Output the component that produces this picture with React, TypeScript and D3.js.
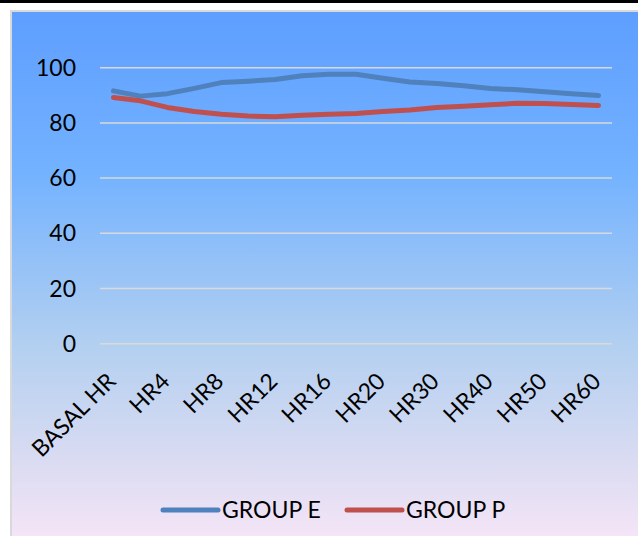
import React from "react";
import * as d3 from "d3";

const categories = [
  "BASAL HR", "HR2", "HR4", "HR6", "HR8", "HR10", "HR12", "HR14", "HR16", "HR18",
  "HR20", "HR25", "HR30", "HR35", "HR40", "HR45", "HR50", "HR55", "HR60",
];
const groupE = [91.6, 89.7, 90.6, 92.5, 94.6, 95.1, 95.7, 97.1, 97.6, 97.6, 96.2, 94.8, 94.3, 93.5, 92.5, 92.0, 91.3, 90.6, 89.9];
const groupP = [89.2, 88.0, 85.6, 84.1, 83.1, 82.5, 82.2, 82.8, 83.1, 83.4, 84.1, 84.7, 85.6, 86.0, 86.6, 87.1, 87.0, 86.7, 86.3];
const yTicks = [0, 20, 40, 60, 80, 100];
const labelEvery = 2;
const seriesNames = ["GROUP E", "GROUP P"];
const seriesColors = ["#4F81BD", "#C0504D"];

const W = 638;
const H = 536;
const FONT = "Lato, 'Open Sans', sans-serif";

export default function App() {
  const x = d3.scaleBand<string>().domain(categories).range([100, 612]);
  const y = d3.scaleLinear().domain([0, 100]).range([343.7, 67.7]);
  const line = d3
    .line<number>()
    .x((_, i) => (x(categories[i]) as number) + x.bandwidth() / 2)
    .y((d) => y(d))
    .curve(d3.curveLinear);
  const series = [groupE, groupP];

  return (
    <div style={{ position: "fixed", left: 0, top: 0, width: W, height: H }}>
      <svg width={W} height={H} style={{ display: "block" }}>
        <defs>
          <linearGradient id="bg" x1="0" y1="0" x2="0" y2="1">
            <stop offset="0" stopColor="#5E9EFF" />
            <stop offset="0.3" stopColor="#73B2FF" />
            <stop offset="0.63" stopColor="#B4D0F0" />
            <stop offset="0.85" stopColor="#DCDCF2" />
            <stop offset="1" stopColor="#F8E6F8" />
          </linearGradient>
        </defs>
        <rect x={0} y={0} width={W} height={H} fill="#ffffff" />
        <rect x={0} y={0} width={W} height={3} fill="#000000" />
        <rect x={11} y={11} width={W} height={H} fill="url(#bg)" stroke="#D9D9D9" strokeWidth={2} />
        {yTicks.map((t) => (
          <g key={t}>
            <line x1={100} x2={612} y1={y(t)} y2={y(t)} stroke="#D9D9D9" strokeWidth={1.5} />
            <text
              x={76}
              y={y(t)}
              dy="0.35em"
              textAnchor="end"
              fontFamily={FONT}
              fontSize={23}
              fill="#000"
            >
              {t}
            </text>
          </g>
        ))}
        {categories.map((c, i) =>
          i % labelEvery === 0 ? (
            <text
              key={c}
              transform={`translate(${(x(c) as number) + x.bandwidth() / 2 - 2},${377}) rotate(-45)`}
              textAnchor="end"
              dy="0.35em"
              fontFamily={FONT}
              fontSize={23}
              fill="#000"
            >
              {c}
            </text>
          ) : null
        )}
        {series.map((s, k) => (
          <path
            key={k}
            d={line(s) || ""}
            fill="none"
            stroke={seriesColors[k]}
            strokeWidth={5}
            strokeLinecap="round"
            strokeLinejoin="round"
          />
        ))}
        {seriesNames.map((n, k) => {
          const lx = k === 0 ? 163 : 347;
          return (
            <g key={n}>
              <line x1={lx} x2={lx + 55} y1={510} y2={510} stroke={seriesColors[k]} strokeWidth={5} strokeLinecap="round" />
              <text x={lx + 59} y={510} dy="0.35em" fontFamily={FONT} fontSize={23} fill="#000">
                {n}
              </text>
            </g>
          );
        })}
      </svg>
    </div>
  );
}
